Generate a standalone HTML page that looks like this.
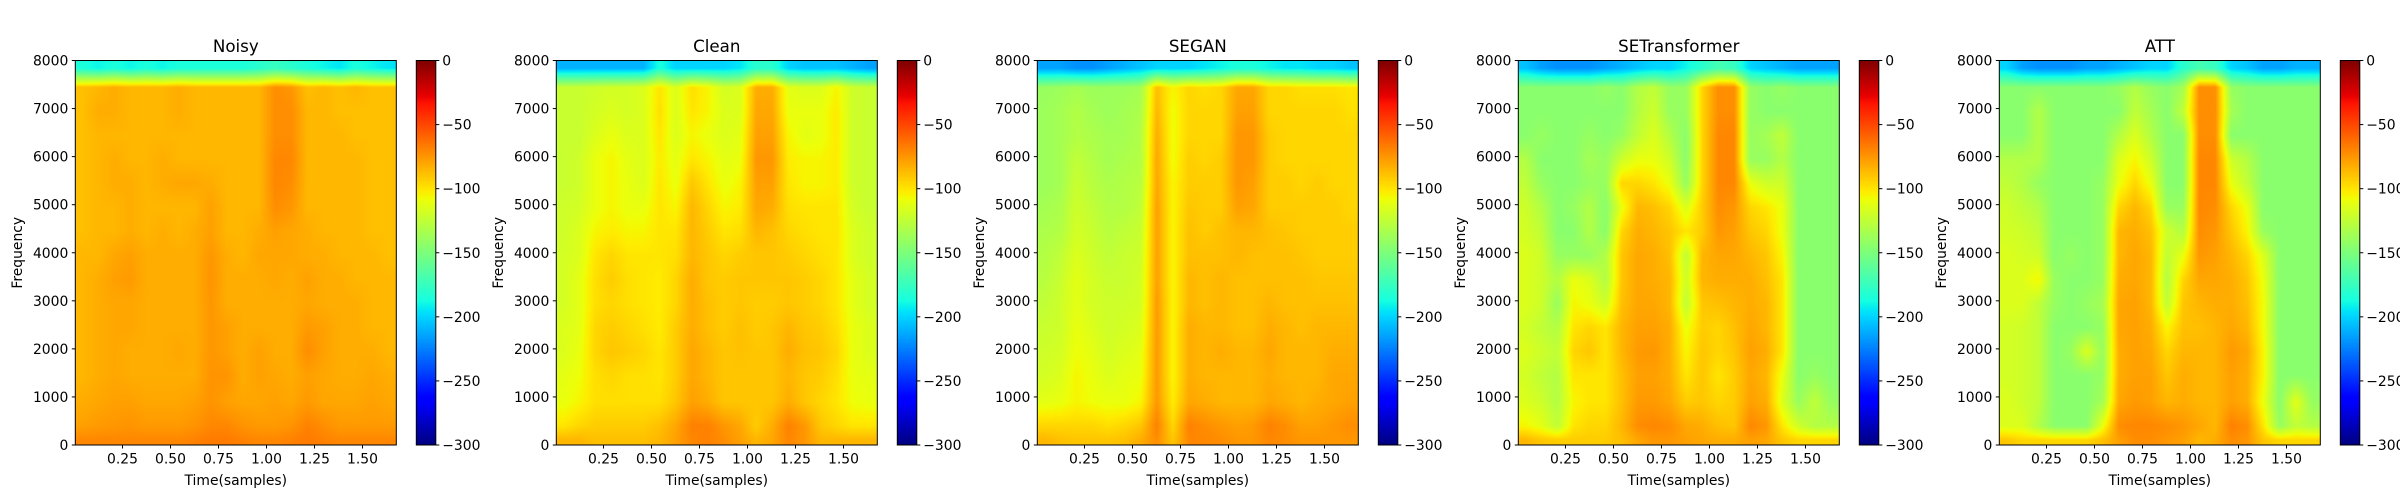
<!DOCTYPE html>
<html><head><meta charset="utf-8">
<style>
html,body{margin:0;padding:0;background:#fff;}
#wrap{position:relative;width:2400px;height:500px;overflow:hidden;font-family:"DejaVu Sans","Liberation Sans",sans-serif;}
canvas{position:absolute;}
svg{position:absolute;left:0;top:0;}
</style></head>
<body>
<div id="wrap">
<svg id="axes" width="2400" height="500"></svg>
</div>
<script>
const panelTitles = ["Noisy","Clean","SEGAN","SETransformer","ATT"];
const xTicks = [0.25,0.5,0.75,1.0,1.25,1.5];
const xTickLabels = ["0.25","0.50","0.75","1.00","1.25","1.50"];
const yTicks = [0,1000,2000,3000,4000,5000,6000,7000,8000];
const cbTicks = [0,-50,-100,-150,-200,-250,-300];
const cbTickLabels = ["0","\u221250","\u2212100","\u2212150","\u2212200","\u2212250","\u2212300"];
// frequency bin edges (top to bottom), Hz
const freqEdges = [8000,7700,7200,6700,6200,5700,5200,4700,4200,3700,3200,2700,2200,1700,1200,600,200,0];
const timeMax = 1.675;
const noisy = [
[-185,-190,-185,-190,-185,-190,-185,-185,-185,-185,-185,-180,-175,-180,-185,-190,-195,-185,-190,-195],
[-88,-85,-82,-85,-85,-85,-82,-85,-85,-85,-85,-85,-72,-75,-88,-85,-88,-85,-88,-88],
[-88,-82,-82,-85,-85,-85,-82,-85,-85,-85,-85,-85,-72,-72,-85,-85,-88,-88,-88,-88],
[-88,-85,-85,-85,-85,-85,-85,-85,-85,-85,-85,-85,-72,-72,-85,-85,-85,-88,-88,-88],
[-88,-85,-82,-85,-85,-82,-85,-85,-85,-85,-85,-85,-70,-70,-85,-85,-85,-85,-88,-88],
[-88,-85,-82,-82,-85,-82,-80,-80,-82,-85,-85,-85,-70,-72,-85,-85,-85,-85,-88,-88],
[-88,-85,-85,-82,-85,-85,-85,-85,-78,-85,-85,-85,-72,-75,-85,-85,-85,-85,-88,-88],
[-88,-85,-85,-82,-85,-82,-85,-82,-78,-85,-85,-82,-78,-80,-82,-85,-85,-85,-88,-88],
[-85,-85,-80,-78,-82,-82,-82,-82,-75,-82,-85,-80,-80,-80,-82,-82,-85,-85,-85,-88],
[-85,-82,-78,-76,-82,-82,-82,-82,-74,-82,-82,-82,-80,-82,-78,-82,-82,-85,-85,-85],
[-85,-82,-80,-80,-82,-82,-82,-82,-75,-82,-82,-82,-82,-82,-80,-82,-82,-82,-85,-85],
[-85,-82,-80,-80,-82,-82,-82,-82,-75,-78,-82,-82,-82,-82,-76,-78,-82,-82,-85,-85],
[-85,-82,-80,-82,-82,-82,-80,-82,-75,-78,-82,-78,-82,-82,-72,-78,-82,-82,-82,-85],
[-85,-82,-80,-82,-82,-82,-82,-82,-74,-74,-82,-78,-80,-82,-78,-80,-82,-82,-80,-82],
[-82,-80,-78,-78,-80,-80,-80,-78,-74,-78,-80,-80,-78,-80,-76,-80,-80,-80,-78,-80],
[-78,-76,-75,-74,-76,-76,-76,-74,-70,-70,-74,-76,-76,-74,-68,-72,-76,-76,-76,-76],
[-70,-70,-70,-70,-70,-70,-70,-68,-66,-66,-68,-70,-70,-68,-66,-68,-70,-70,-70,-70]];
const clean = [
[-210,-210,-210,-210,-210,-210,-185,-200,-200,-200,-200,-195,-180,-180,-200,-205,-205,-205,-210,-215],
[-122,-122,-120,-118,-118,-115,-100,-115,-98,-105,-118,-115,-82,-82,-112,-115,-115,-105,-120,-122],
[-122,-122,-118,-115,-118,-115,-98,-115,-100,-105,-115,-115,-80,-80,-110,-110,-110,-102,-120,-122],
[-122,-122,-115,-110,-115,-115,-100,-115,-105,-110,-115,-112,-78,-78,-105,-112,-110,-102,-120,-122],
[-122,-120,-110,-105,-112,-115,-102,-112,-100,-105,-112,-110,-75,-75,-102,-105,-105,-102,-120,-122],
[-122,-120,-110,-105,-110,-115,-100,-110,-90,-100,-110,-105,-78,-78,-100,-105,-105,-102,-120,-122],
[-120,-118,-110,-105,-110,-110,-100,-105,-85,-95,-105,-102,-80,-82,-98,-100,-100,-100,-118,-122],
[-120,-115,-105,-102,-105,-105,-100,-100,-85,-92,-100,-98,-85,-88,-95,-98,-100,-100,-115,-120],
[-118,-115,-100,-95,-100,-100,-100,-98,-85,-90,-95,-92,-90,-90,-92,-95,-98,-100,-115,-120],
[-118,-112,-98,-92,-98,-100,-102,-95,-82,-90,-92,-90,-90,-90,-90,-92,-95,-100,-112,-118],
[-118,-112,-98,-95,-98,-100,-102,-95,-82,-88,-92,-90,-92,-92,-90,-92,-95,-100,-112,-118],
[-115,-112,-95,-92,-95,-98,-102,-92,-82,-88,-92,-88,-92,-90,-85,-90,-92,-98,-110,-115],
[-115,-110,-95,-90,-92,-95,-100,-92,-80,-85,-90,-88,-90,-90,-82,-88,-90,-95,-110,-115],
[-112,-108,-98,-95,-98,-98,-100,-92,-80,-85,-90,-90,-90,-90,-85,-90,-92,-98,-110,-112],
[-110,-105,-98,-98,-98,-98,-98,-90,-78,-82,-90,-90,-90,-90,-82,-90,-95,-100,-108,-110],
[-100,-95,-92,-92,-92,-92,-88,-80,-68,-68,-75,-80,-92,-82,-68,-75,-90,-95,-100,-100],
[-85,-85,-88,-88,-88,-88,-85,-78,-70,-68,-72,-78,-85,-80,-70,-75,-85,-85,-85,-85]];
const segan = [
[-215,-215,-220,-220,-215,-210,-205,-200,-200,-200,-195,-190,-185,-185,-190,-195,-195,-200,-200,-205],
[-140,-138,-135,-138,-138,-138,-135,-88,-105,-95,-98,-95,-80,-80,-95,-95,-98,-98,-98,-100],
[-138,-135,-130,-135,-138,-135,-132,-85,-108,-95,-95,-95,-78,-78,-95,-95,-95,-95,-95,-98],
[-138,-135,-130,-132,-135,-135,-130,-82,-108,-95,-95,-95,-75,-75,-92,-95,-95,-95,-95,-95],
[-138,-135,-125,-130,-135,-132,-130,-80,-108,-92,-95,-92,-75,-75,-92,-95,-95,-95,-95,-95],
[-138,-135,-122,-128,-132,-130,-128,-80,-105,-92,-92,-92,-75,-78,-92,-92,-95,-92,-95,-95],
[-135,-132,-120,-125,-130,-130,-125,-78,-105,-90,-92,-92,-78,-80,-92,-92,-92,-92,-92,-95],
[-132,-130,-118,-122,-128,-125,-122,-78,-105,-88,-92,-88,-85,-85,-88,-90,-92,-92,-92,-92],
[-130,-125,-115,-120,-125,-122,-120,-78,-105,-88,-88,-88,-85,-88,-88,-88,-90,-92,-92,-92],
[-128,-122,-112,-118,-122,-122,-118,-78,-105,-85,-88,-85,-88,-88,-88,-88,-88,-90,-90,-90],
[-125,-120,-112,-118,-120,-120,-118,-76,-105,-85,-88,-85,-88,-88,-85,-88,-88,-88,-88,-88],
[-122,-120,-110,-115,-120,-118,-115,-76,-105,-82,-85,-85,-88,-88,-82,-85,-88,-85,-85,-85],
[-120,-118,-108,-112,-118,-115,-112,-76,-105,-82,-85,-82,-85,-85,-80,-85,-85,-85,-82,-82],
[-118,-115,-105,-110,-115,-112,-110,-76,-105,-82,-85,-85,-85,-85,-82,-85,-85,-85,-80,-80],
[-112,-110,-105,-108,-110,-110,-105,-75,-102,-80,-82,-85,-85,-85,-80,-82,-85,-82,-80,-78],
[-95,-95,-95,-95,-98,-95,-90,-68,-95,-68,-72,-75,-78,-76,-68,-72,-78,-78,-75,-72],
[-85,-88,-90,-90,-90,-88,-82,-72,-90,-70,-70,-72,-75,-75,-70,-72,-75,-75,-75,-75]];
const setrans = [
[-205,-215,-220,-220,-220,-215,-210,-205,-200,-200,-190,-180,-170,-175,-200,-205,-210,-215,-215,-215],
[-145,-145,-145,-145,-145,-140,-145,-130,-125,-140,-140,-95,-72,-72,-140,-145,-140,-145,-145,-145],
[-145,-145,-145,-145,-145,-145,-145,-130,-120,-140,-140,-95,-72,-72,-140,-145,-145,-145,-145,-145],
[-145,-140,-145,-145,-140,-145,-140,-125,-115,-130,-145,-95,-70,-70,-140,-135,-125,-145,-145,-145],
[-130,-145,-145,-145,-135,-140,-120,-110,-110,-120,-145,-95,-70,-70,-140,-140,-130,-145,-145,-145],
[-125,-140,-145,-145,-140,-140,-95,-95,-100,-110,-140,-95,-70,-70,-110,-120,-120,-145,-145,-145],
[-120,-130,-145,-140,-130,-145,-110,-85,-88,-95,-115,-92,-72,-75,-95,-100,-110,-145,-145,-145],
[-118,-125,-145,-145,-130,-145,-95,-82,-85,-90,-100,-92,-75,-78,-90,-95,-110,-145,-145,-145],
[-115,-120,-140,-140,-140,-130,-90,-80,-82,-88,-125,-85,-80,-80,-85,-90,-105,-145,-145,-145],
[-115,-120,-130,-110,-115,-130,-90,-80,-82,-85,-120,-85,-82,-82,-82,-88,-100,-145,-145,-145],
[-115,-120,-140,-105,-110,-120,-88,-80,-80,-85,-125,-90,-88,-85,-82,-85,-100,-145,-145,-145],
[-118,-125,-130,-100,-95,-100,-85,-78,-78,-82,-110,-92,-95,-88,-80,-85,-100,-145,-145,-145],
[-115,-120,-125,-95,-90,-100,-85,-76,-75,-82,-105,-90,-95,-90,-78,-82,-100,-145,-145,-145],
[-118,-125,-130,-100,-100,-100,-88,-78,-78,-82,-100,-90,-100,-92,-80,-85,-110,-145,-140,-145],
[-115,-120,-130,-105,-100,-100,-88,-76,-76,-80,-92,-90,-95,-92,-78,-82,-115,-140,-125,-140],
[-105,-112,-125,-100,-95,-95,-85,-72,-70,-72,-80,-82,-88,-90,-70,-75,-100,-120,-130,-130],
[-85,-90,-92,-92,-92,-92,-88,-80,-75,-75,-78,-80,-82,-82,-78,-80,-90,-95,-95,-95]];
const att = [
[-200,-215,-220,-220,-220,-215,-215,-210,-205,-200,-200,-180,-170,-175,-200,-205,-215,-215,-210,-210],
[-145,-145,-145,-145,-145,-145,-145,-140,-130,-140,-145,-135,-72,-72,-140,-145,-145,-145,-145,-145],
[-145,-145,-130,-145,-145,-145,-145,-145,-125,-135,-145,-125,-72,-72,-135,-145,-145,-145,-145,-145],
[-145,-145,-130,-145,-145,-145,-145,-130,-115,-130,-145,-145,-72,-72,-145,-145,-145,-145,-145,-145],
[-130,-130,-130,-145,-145,-145,-145,-115,-105,-120,-145,-145,-70,-70,-120,-130,-145,-145,-145,-145],
[-125,-130,-140,-145,-145,-145,-140,-110,-95,-110,-145,-145,-70,-70,-110,-125,-145,-145,-145,-145],
[-120,-125,-130,-145,-145,-145,-140,-95,-85,-95,-140,-140,-70,-72,-95,-110,-145,-145,-145,-145],
[-118,-120,-125,-145,-145,-145,-140,-85,-82,-88,-120,-130,-72,-75,-90,-105,-140,-145,-145,-145],
[-115,-118,-120,-145,-140,-145,-140,-85,-80,-85,-125,-110,-75,-78,-85,-95,-115,-145,-145,-145],
[-115,-115,-105,-140,-145,-145,-140,-82,-80,-85,-130,-95,-80,-80,-82,-90,-110,-145,-145,-145],
[-115,-115,-125,-140,-145,-140,-135,-80,-78,-85,-125,-90,-85,-82,-82,-88,-108,-145,-145,-145],
[-118,-120,-125,-145,-145,-145,-140,-80,-78,-82,-105,-88,-88,-85,-80,-85,-108,-145,-145,-145],
[-118,-120,-125,-145,-140,-115,-140,-82,-78,-80,-95,-85,-85,-85,-76,-80,-105,-145,-145,-145],
[-118,-120,-125,-145,-145,-145,-140,-82,-78,-78,-90,-82,-85,-85,-78,-82,-105,-145,-145,-145],
[-115,-120,-125,-145,-145,-145,-135,-80,-76,-78,-85,-82,-85,-85,-78,-82,-110,-145,-112,-140],
[-115,-115,-130,-145,-145,-145,-110,-72,-70,-70,-72,-75,-80,-85,-68,-72,-100,-140,-125,-130],
[-90,-95,-95,-95,-95,-95,-88,-78,-72,-72,-75,-78,-85,-82,-72,-75,-90,-95,-95,-95]];
const panelData = [noisy, clean, segan, setrans, att];

const NS = "http://www.w3.org/2000/svg";
const svg = document.getElementById('axes');
const wrap = document.getElementById('wrap');
const PANEL_DX = 481, PL = 75.3, PW = 321, PT = 60.5, PH = 384.5;
const CBL = 416.3, CBW = 19.5;
const X0 = 74.5, XS = 192;
function xScale(t){ return X0 + t*XS; }
function yScale(f){ return PT + PH - f/8000*PH; }
function cbScale(v){ return PT + (-v)/300*PH; }
const JR = [[0,0],[0.35,0],[0.66,1],[0.89,1],[1,0.5]];
const JG = [[0,0],[0.125,0],[0.375,1],[0.64,1],[0.91,0],[1,0]];
const JB = [[0,0.5],[0.11,1],[0.34,1],[0.65,0],[1,0]];
function seg(p, x){
  for (let i=0;i<p.length-1;i++){
    if (x<=p[i+1][0]){ const u=(x-p[i][0])/(p[i+1][0]-p[i][0]); return p[i][1]+(p[i+1][1]-p[i][1])*u; }
  }
  return p[p.length-1][1];
}
function jet(v){
  const x = Math.max(0,Math.min(1,(v+300)/300));
  return [seg(JR,x)*255, seg(JG,x)*255, seg(JB,x)*255];
}
function el(tag, attrs, parent){
  const e = document.createElementNS(NS, tag);
  for (const k in attrs) e.setAttribute(k, attrs[k]);
  (parent||svg).appendChild(e); return e;
}
const nCols = 20;
const colCenters = []; for (let c=0;c<nCols;c++) colCenters.push((c+0.5)*timeMax/nCols);
const rowCenters = []; for (let r=0;r<freqEdges.length-1;r++) rowCenters.push((freqEdges[r]+freqEdges[r+1])/2);

function sample(grid, t, f){
  let ci = 0; while (ci < nCols-2 && colCenters[ci+1] < t) ci++;
  let tx = (t-colCenters[ci])/(colCenters[ci+1]-colCenters[ci]); tx = Math.max(0,Math.min(1,tx));
  const nR = rowCenters.length;
  let ri = 0; while (ri < nR-2 && rowCenters[ri+1] > f) ri++;
  let ty = (rowCenters[ri]-f)/(rowCenters[ri]-rowCenters[ri+1]); ty = Math.max(0,Math.min(1,ty));
  const a = grid[ri][ci], b = grid[ri][ci+1], c = grid[ri+1][ci], d = grid[ri+1][ci+1];
  return (a*(1-tx)+b*tx)*(1-ty) + (c*(1-tx)+d*tx)*ty;
}

panelData.forEach((grid, i) => {
  const dx = PANEL_DX*i;
  const cv = document.createElement('canvas');
  
  
  const W = Math.round(PW), H = Math.round(PH);
  cv.width = W; cv.height = H;
  cv.style.left = (PL+dx)+'px'; cv.style.top = PT+'px';
  cv.style.width = PW+'px'; cv.style.height = PH+'px';
  const ctx = cv.getContext('2d');
  const img = ctx.createImageData(W,H);
  for (let py=0; py<H; py++){
    const f = 8000 - (py+0.5)/H*8000;
    for (let px=0; px<W; px++){
      const t = (PL + px + 0.5 - X0)/XS;
      const [r,g,b] = jet(sample(grid,t,f));
      const k = (py*W+px)*4;
      img.data[k]=r; img.data[k+1]=g; img.data[k+2]=b; img.data[k+3]=255;
    }
  }
  ctx.putImageData(img,0,0);
  wrap.insertBefore(cv, svg);

  const cb = document.createElement('canvas');
  
  
  cb.width = 1; cb.height = H;
  cb.style.left = (CBL+dx)+'px'; cb.style.top = PT+'px';
  cb.style.width = CBW+'px'; cb.style.height = PH+'px';
  const cctx = cb.getContext('2d');
  const cimg = cctx.createImageData(1,H);
  for (let py=0; py<H; py++){
    const [r,g,b] = jet(-(py+0.5)/H*300);
    cimg.data[py*4]=r; cimg.data[py*4+1]=g; cimg.data[py*4+2]=b; cimg.data[py*4+3]=255;
  }
  cctx.putImageData(cimg,0,0);
  wrap.insertBefore(cb, svg);

  const g = el('g', {});
  
  
  const fr = el('rect', {x:PL+dx, y:PT, width:PW, height:PH, fill:'none', stroke:'#000', 'stroke-width':1}, g);
  
  
  const cfr = el('rect', {x:CBL+dx, y:PT, width:CBW, height:PH, fill:'none', stroke:'#000', 'stroke-width':1}, g);
  
  
  const tt = el('text', {x:PL+dx+PW/2, y:52, 'text-anchor':'middle', 'font-size':'16.7px', fill:'#000'}, g);
  tt.textContent = panelTitles[i];
  
  
  xTicks.forEach((t,k) => {
    const x = xScale(t)+dx;
    el('line', {x1:x, x2:x, y1:PT+PH, y2:PT+PH+3.5, stroke:'#000', 'stroke-width':1}, g);
    const lb = el('text', {x:x, y:PT+PH+18.5, 'text-anchor':'middle', 'font-size':'13.9px', fill:'#000'}, g);
    lb.textContent = xTickLabels[k];
    
    
  });
  yTicks.forEach(f => {
    const y = yScale(f);
    el('line', {x1:PL+dx-3.5, x2:PL+dx, y1:y, y2:y, stroke:'#000', 'stroke-width':1}, g);
    const lb = el('text', {x:PL+dx-7, y:y+5, 'text-anchor':'end', 'font-size':'13.9px', fill:'#000'}, g);
    lb.textContent = String(f);
    
    
  });
  cbTicks.forEach((v,k) => {
    const y = cbScale(v);
    el('line', {x1:CBL+dx+CBW, x2:CBL+dx+CBW+3.5, y1:y, y2:y, stroke:'#000', 'stroke-width':1}, g);
    const lb = el('text', {x:CBL+dx+CBW+6.5, y:y+5, 'text-anchor':'start', 'font-size':'13.9px', fill:'#000'}, g);
    lb.textContent = cbTickLabels[k];
    
    
  });
  const xl = el('text', {x:PL+dx+PW/2, y:485, 'text-anchor':'middle', 'font-size':'13.9px', fill:'#000'}, g);
  xl.textContent = 'Time(samples)';
  
  
  const yx = 22+dx, yy = PT+PH/2;
  const yl = el('text', {x:yx, y:yy, 'text-anchor':'middle', 'font-size':'13.9px', fill:'#000', transform:`rotate(-90 ${yx} ${yy})`}, g);
  yl.textContent = 'Frequency';
  
  
});
</script>
</body></html>
